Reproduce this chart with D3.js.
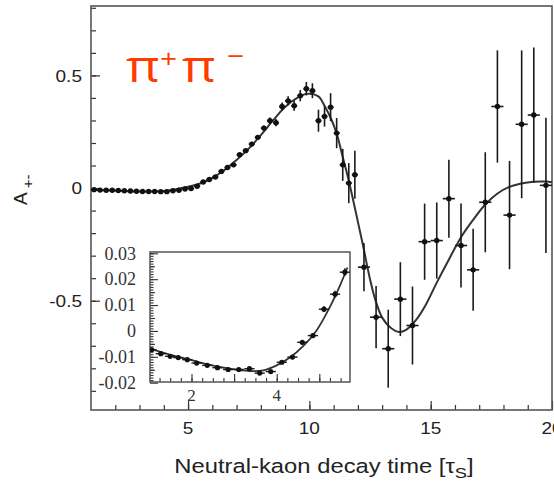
<!DOCTYPE html>
<html><head><meta charset="utf-8">
<script src="https://cdn.jsdelivr.net/npm/d3@7"></script>
<style>body{margin:0;background:#fff} svg{display:block}</style>
</head><body>
<svg id="c" width="554" height="485"></svg>
<script>
// ---------------- data ----------------
const mainT = [1.125,1.375,1.625,1.875,2.125,2.375,2.625,2.875,3.125,3.375,3.625,3.875,4.125,4.375,4.625,4.875,5.125,5.375,
  5.625,5.875,6.125,6.375,6.625,6.875,7.125,7.375,7.625,7.875,8.125,8.375,8.625,8.875,9.125,9.375,9.625,9.875,10.125,10.375,10.625,10.875,11.125,11.375,11.625,11.875,
  12.25,12.75,13.25,13.75,14.25,14.75,15.25,15.75,16.25,16.75,17.25,17.75,18.25,18.75,19.25,19.75];
const mainA = [-0.007,-0.009,-0.010,-0.010,-0.011,-0.012,-0.013,-0.014,-0.015,-0.015,-0.015,-0.016,-0.016,-0.012,-0.010,-0.004,-0.002,0.008,
  0.027,0.038,0.049,0.074,0.091,0.103,0.148,0.166,0.195,0.225,0.266,0.299,0.290,0.362,0.387,0.365,0.410,0.441,0.432,0.299,0.318,0.359,0.244,0.103,0.022,0.059,
  -0.351,-0.573,-0.713,-0.493,-0.610,-0.238,-0.233,-0.047,-0.255,-0.363,-0.063,0.362,-0.120,0.283,0.324,0.012];
const mainAErr = [0.002,0.002,0.002,0.002,0.002,0.002,0.002,0.002,0.002,0.002,0.002,0.002,0.002,0.002,0.002,0.002,0.003,0.003,
  0.004,0.005,0.005,0.006,0.007,0.007,0.008,0.009,0.010,0.011,0.012,0.014,0.016,0.018,0.020,0.022,0.025,0.030,0.033,0.049,0.045,0.062,0.067,0.071,0.089,0.107,
  0.107,0.138,0.173,0.164,0.173,0.169,0.169,0.173,0.186,0.182,0.222,0.249,0.240,0.328,0.300,0.300];
const mainTErr = [0.125,0.125,0.125,0.125,0.125,0.125,0.125,0.125,0.125,0.125,0.125,0.125,0.125,0.125,0.125,0.125,0.125,0.125,
  0.125,0.125,0.125,0.125,0.125,0.125,0.125,0.125,0.125,0.125,0.125,0.125,0.125,0.125,0.125,0.125,0.125,0.125,0.125,0.125,0.125,0.125,0.125,0.125,0.125,0.125,
  0.25,0.25,0.25,0.25,0.25,0.25,0.25,0.25,0.25,0.25,0.25,0.25,0.25,0.25,0.25,0.25];

const fitT = [1.0,2.0,3.0,4.0,4.5,5.0,5.5,6.0,6.5,7.0,7.5,8.0,8.5,9.0,9.5,9.9,10.37,10.64,10.88,11.12,11.37,11.62,12.0,12.22,12.5,12.73,13.0,13.35,13.7,14.0,14.4,14.8,15.24,15.79,16.27,16.75,17.23,17.74,18.24,18.73,19.25,19.75,20.0];
const fitA = [-0.007,-0.011,-0.015,-0.013,-0.005,0.006,0.020,0.045,0.080,0.125,0.175,0.235,0.300,0.360,0.400,0.418,0.407,0.362,0.311,0.244,0.140,0.035,-0.150,-0.259,-0.405,-0.500,-0.575,-0.620,-0.639,-0.628,-0.585,-0.518,-0.422,-0.309,-0.215,-0.141,-0.075,-0.025,0.005,0.020,0.028,0.029,0.026];

const insetT = [1.066,1.28,1.50,1.69,1.90,2.12,2.37,2.61,2.86,3.11,3.36,3.60,3.86,4.12,4.37,4.60,4.85,5.11,5.37,5.60];
const insetA = [-0.0073,-0.0088,-0.0098,-0.0103,-0.0111,-0.0124,-0.0133,-0.0142,-0.0149,-0.0149,-0.0146,-0.0163,-0.0157,-0.0121,-0.0101,-0.0044,-0.0018,0.0084,0.0142,0.0227];
const insetAErr = [0.0004,0.0004,0.0004,0.0004,0.0004,0.0004,0.0004,0.0004,0.0004,0.0004,0.0005,0.0005,0.0005,0.0006,0.0007,0.0008,0.0009,0.0011,0.0013,0.0015];
const insetTErr = [0.12,0.12,0.12,0.12,0.12,0.12,0.12,0.12,0.12,0.12,0.12,0.12,0.12,0.12,0.12,0.12,0.12,0.12,0.12,0.12];
const insetFitT = [1.026,1.5,1.96,2.4,2.9,3.37,3.69,4.0,4.31,4.62,4.94,5.25,5.49,5.66];
const insetFitA = [-0.0068,-0.0092,-0.0111,-0.0130,-0.0146,-0.0155,-0.0152,-0.0133,-0.0103,-0.0059,0.0003,0.0093,0.0177,0.0245];

const xTicks = [5,10,15,20];
const xTickLabels = ["5","10","15","20"];
const yTicks = [0.5,0,-0.5];
const yTickLabels = ["0.5","0","-0.5"];
const insetYTicks = [0.03,0.02,0.01,0,-0.01,-0.02];
const insetYTickLabels = ["0.03","0.02","0.01","0","-0.01","-0.02"];
const insetXTicks = [2,4];
const insetXTickLabels = ["2","4"];

// ---------------- drawing ----------------
const svg = d3.select("#c");
const L = 91, R = 552, T = 6, B = 410;
const x = d3.scaleLinear().domain([1,20]).range([L,R]);
const y = d3.scaleLinear().domain([-0.985,0.808]).range([B,T]);

svg.append("clipPath").attr("id","mclip").append("rect").attr("x",L).attr("y",T).attr("width",R-L).attr("height",B-T);

function axisStyle(g){ g.select(".domain").remove(); g.selectAll("line").attr("stroke","#333").attr("stroke-width",1.2); }

// main ticks (inward)
svg.append("g").attr("transform",`translate(0,${B})`)
  .call(d3.axisBottom(x).tickValues(d3.range(2,20)).tickSize(-5).tickFormat("")).call(axisStyle);
svg.append("g").attr("transform",`translate(0,${B})`)
  .call(d3.axisBottom(x).tickValues(xTicks).tickSize(-9).tickFormat("")).call(axisStyle);
svg.append("g").attr("transform",`translate(${L},0)`)
  .call(d3.axisLeft(y).tickValues(d3.range(-9,9).map(d=>d/10)).tickSize(-5).tickFormat("")).call(axisStyle);
svg.append("g").attr("transform",`translate(${L},0)`)
  .call(d3.axisLeft(y).tickValues(yTicks).tickSize(-9).tickFormat("")).call(axisStyle);

// main frame
svg.append("rect").attr("x",L).attr("y",T).attr("width",R-L).attr("height",B-T)
  .attr("fill","none").attr("stroke","#555").attr("stroke-width",1.6);

// tick labels
const sans = "'Liberation Sans', Arial, sans-serif";
xTicks.forEach((v,i)=>{
  svg.append("text").attr("transform",`translate(${x(v)},433.5) scale(1.15,1)`)
    .attr("text-anchor","middle").attr("font-family",sans).attr("font-size",16.5).attr("fill","#222").text(xTickLabels[i]);
});
yTicks.forEach((v,i)=>{
  svg.append("text").attr("transform",`translate(82,${y(v)}) scale(1.12,1)`)
    .attr("text-anchor","end").attr("dy","0.36em").attr("font-family",sans).attr("font-size",17).attr("fill","#222").text(yTickLabels[i]);
});

// axis titles
const xl = svg.append("text").attr("transform","translate(324,473) scale(1.22,1)")
  .attr("text-anchor","middle").attr("font-family",sans).attr("font-size",19.5).attr("fill","#222");
xl.append("tspan").text("Neutral-kaon decay time [τ");
xl.append("tspan").attr("font-size",15).attr("dy",5).text("S");
xl.append("tspan").attr("dy",-5).text("]");

const yl = svg.append("text").attr("transform","translate(27,205) rotate(-90)")
  .attr("font-family",sans).attr("font-size",19).attr("fill","#222");
yl.append("tspan").text("A");
yl.append("tspan").attr("font-size",15).attr("dx",4).attr("dy",6).text("+-");

// pi+ pi- label
const red = "#ff3c00", pf = "'Open Sans', 'DejaVu Sans', sans-serif";
svg.append("text").attr("transform","translate(126,82) scale(1.2,1)").attr("font-family",pf).attr("font-size",43).attr("fill",red).text("π");
svg.append("text").attr("transform","translate(160,68) scale(1.2,1)").attr("font-family",pf).attr("font-size",25).attr("fill",red).text("+");
svg.append("text").attr("transform","translate(182,82) scale(1.2,1)").attr("font-family",pf).attr("font-size",43).attr("fill",red).text("π");
svg.append("text").attr("transform","translate(227,65) scale(1.2,1)").attr("font-family",pf).attr("font-size",25).attr("fill",red).text("−");

// main fit curve
const mg = svg.append("g").attr("clip-path","url(#mclip)");
mg.append("path").datum(fitT.map((t,i)=>[t,fitA[i]]))
  .attr("d", d3.line().x(d=>x(d[0])).y(d=>y(d[1])).curve(d3.curveCatmullRom.alpha(0.5)))
  .attr("fill","none").attr("stroke","#333").attr("stroke-width",2);

// main points
const pts = mainT.map((t,i)=>({t, a:mainA[i], ea:mainAErr[i], et:mainTErr[i]}));
mg.selectAll("line.ev").data(pts).join("line").attr("class","ev")
  .attr("x1",d=>x(d.t)).attr("x2",d=>x(d.t)).attr("y1",d=>y(d.a-d.ea)).attr("y2",d=>y(d.a+d.ea))
  .attr("stroke","#1a1a1a").attr("stroke-width",1.6);
mg.selectAll("line.eh").data(pts).join("line").attr("class","eh")
  .attr("x1",d=>x(d.t-d.et)).attr("x2",d=>x(d.t+d.et)).attr("y1",d=>y(d.a)).attr("y2",d=>y(d.a))
  .attr("stroke","#1a1a1a").attr("stroke-width",1.6);
mg.selectAll("circle").data(pts).join("circle")
  .attr("cx",d=>x(d.t)).attr("cy",d=>y(d.a)).attr("r",2.7).attr("fill","#111");

// ---------------- inset ----------------
const iL = 150, iR = 350, iT = 252, iB = 382;
const ix = d3.scaleLinear().domain([2,4]).range([191.5,276.7]);
const iy = d3.scaleLinear().domain([-0.02,0.03]).range([382.7,253.3]);
svg.append("rect").attr("x",iL).attr("y",iT).attr("width",iR-iL).attr("height",iB-iT).attr("fill","#fff");
svg.append("clipPath").attr("id","iclip").append("rect").attr("x",iL).attr("y",iT).attr("width",iR-iL).attr("height",iB-iT);

function axisStyle2(g){ g.select(".domain").remove(); g.selectAll("line").attr("stroke","#333").attr("stroke-width",1.1); }
svg.append("g").attr("transform",`translate(0,${iB})`)
  .call(d3.axisBottom(ix).tickValues(d3.range(5,23).map(d=>d/4)).tickSize(-4).tickFormat("")).call(axisStyle2);
svg.append("g").attr("transform",`translate(0,${iB})`)
  .call(d3.axisBottom(ix).tickValues([2,3,4,5]).tickSize(-8).tickFormat("")).call(axisStyle2);
svg.append("g").attr("transform",`translate(${iL},0)`)
  .call(d3.axisLeft(iy).tickValues(d3.range(-19,31).map(d=>d/1000)).tickSize(-3.5).tickFormat("")).call(axisStyle2);
svg.append("g").attr("transform",`translate(${iL},0)`)
  .call(d3.axisLeft(iy).tickValues([-0.015,-0.005,0.005,0.015,0.025]).tickSize(-5).tickFormat("")).call(axisStyle2);
svg.append("g").attr("transform",`translate(${iL},0)`)
  .call(d3.axisLeft(iy).tickValues(insetYTicks).tickSize(-8).tickFormat("")).call(axisStyle2);

svg.append("rect").attr("x",iL).attr("y",iT).attr("width",iR-iL).attr("height",iB-iT)
  .attr("fill","none").attr("stroke","#555").attr("stroke-width",1.5);

const serif = "'Liberation Serif', 'Times New Roman', serif";
insetYTicks.forEach((v,i)=>{
  svg.append("text").attr("x",136).attr("y",iy(v)).attr("dy","0.35em").attr("text-anchor","end")
    .attr("font-family",serif).attr("font-size",18).attr("fill","#333").text(insetYTickLabels[i]);
});
insetXTicks.forEach((v,i)=>{
  svg.append("text").attr("x",ix(v)).attr("y",401).attr("text-anchor","middle")
    .attr("font-family",serif).attr("font-size",17).attr("fill","#333").text(insetXTickLabels[i]);
});

const ig = svg.append("g").attr("clip-path","url(#iclip)");
ig.append("path").datum(insetFitT.map((t,i)=>[t,insetFitA[i]]))
  .attr("d", d3.line().x(d=>ix(d[0])).y(d=>iy(d[1])).curve(d3.curveCatmullRom.alpha(0.5)))
  .attr("fill","none").attr("stroke","#333").attr("stroke-width",1.8);
const ipts = insetT.map((t,i)=>({t, a:insetA[i], ea:insetAErr[i], et:insetTErr[i]}));
ig.selectAll("line.ev").data(ipts).join("line").attr("class","ev")
  .attr("x1",d=>ix(d.t)).attr("x2",d=>ix(d.t)).attr("y1",d=>iy(d.a-d.ea)).attr("y2",d=>iy(d.a+d.ea))
  .attr("stroke","#1a1a1a").attr("stroke-width",1.4);
ig.selectAll("line.eh").data(ipts).join("line").attr("class","eh")
  .attr("x1",d=>ix(d.t-d.et)).attr("x2",d=>ix(d.t+d.et)).attr("y1",d=>iy(d.a)).attr("y2",d=>iy(d.a))
  .attr("stroke","#1a1a1a").attr("stroke-width",1.4);
ig.selectAll("circle").data(ipts).join("circle")
  .attr("cx",d=>ix(d.t)).attr("cy",d=>iy(d.a)).attr("r",2.6).attr("fill","#111");
</script>
</body></html>
